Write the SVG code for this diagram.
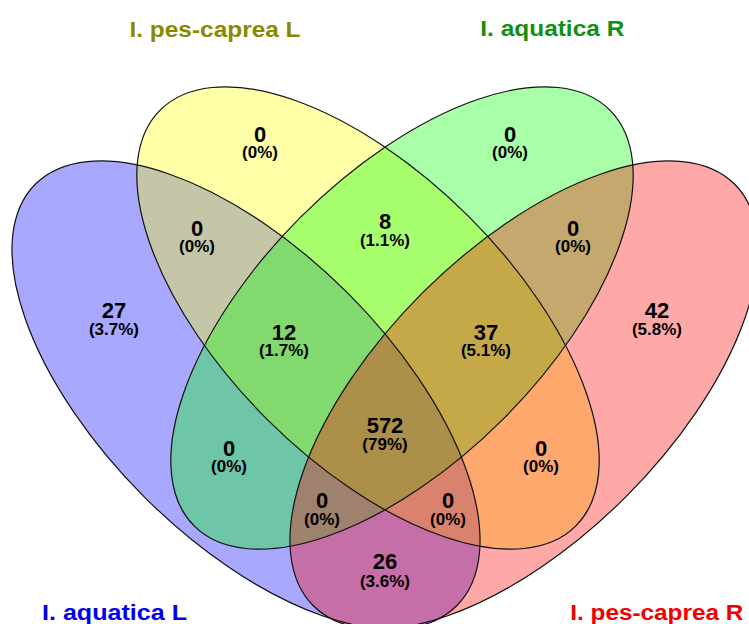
<svg xmlns="http://www.w3.org/2000/svg" width="749" height="624" viewBox="0 0 749 624">
<style>
.fill{stroke:none;fill-opacity:0.34}
.edge{fill:none;stroke:#111;stroke-width:1.2}
.num{font-family:"Liberation Sans",Arial,Helvetica,sans-serif;font-weight:bold;font-size:22px;text-anchor:middle;fill:#000}
.pct{font-family:"Liberation Sans",Arial,Helvetica,sans-serif;font-weight:bold;font-size:17px;text-anchor:middle;fill:#000}
.cat{font-family:"Liberation Sans",Arial,Helvetica,sans-serif;font-weight:bold;font-size:22.5px}
</style>
<defs>
<ellipse id="eA" cx="0" cy="0" rx="298" ry="144" transform="translate(246 395) rotate(45)"/>
<ellipse id="eB" cx="0" cy="0" rx="294" ry="143" transform="translate(368 318) rotate(45)"/>
<ellipse id="eC" cx="0" cy="0" rx="294" ry="143" transform="translate(402 318) rotate(-45)"/>
<ellipse id="eD" cx="0" cy="0" rx="298" ry="144" transform="translate(524 395) rotate(-45)"/>
</defs>
<rect width="749" height="624" fill="#fff"/>
<g id="set-aquatica-L"><use href="#eA" class="fill" fill="#0000ff"/></g>
<g id="set-pes-caprea-L"><use href="#eB" class="fill" fill="#ffff00"/></g>
<g id="set-aquatica-R"><use href="#eC" class="fill" fill="#00ff00"/></g>
<g id="set-pes-caprea-R"><use href="#eD" class="fill" fill="#ff0000"/></g>
<g id="outlines">
<use href="#eA" class="edge"/>
<use href="#eB" class="edge"/>
<use href="#eC" class="edge"/>
<use href="#eD" class="edge"/>
</g>
<g id="connectors"></g>
<g id="region-labels">
<text class="num" x="260" y="142">0</text><text class="pct" x="260" y="158">(0%)</text>
<text class="num" x="510" y="142">0</text><text class="pct" x="510" y="158">(0%)</text>
<text class="num" x="114" y="318">27</text><text class="pct" x="114" y="335">(3.7%)</text>
<text class="num" x="657" y="318">42</text><text class="pct" x="657" y="335">(5.8%)</text>
<text class="num" x="197" y="236">0</text><text class="pct" x="197" y="252">(0%)</text>
<text class="num" x="573" y="236">0</text><text class="pct" x="573" y="252">(0%)</text>
<text class="num" x="385" y="229">8</text><text class="pct" x="385" y="246">(1.1%)</text>
<text class="num" x="284" y="340">12</text><text class="pct" x="284" y="356">(1.7%)</text>
<text class="num" x="486" y="340">37</text><text class="pct" x="486" y="356">(5.1%)</text>
<text class="num" x="385" y="433">572</text><text class="pct" x="385" y="450">(79%)</text>
<text class="num" x="229" y="456">0</text><text class="pct" x="229" y="472">(0%)</text>
<text class="num" x="541" y="456">0</text><text class="pct" x="541" y="472">(0%)</text>
<text class="num" x="322" y="508">0</text><text class="pct" x="322" y="525">(0%)</text>
<text class="num" x="448" y="508">0</text><text class="pct" x="448" y="525">(0%)</text>
<text class="num" x="385" y="569">26</text><text class="pct" x="385" y="587">(3.6%)</text>
</g>
<g id="category-labels">
<text class="cat" x="129.5" y="36.5" textLength="171" lengthAdjust="spacingAndGlyphs" fill="#8a8a00">I. pes-caprea L</text>
<text class="cat" x="480.3" y="36" textLength="144" lengthAdjust="spacingAndGlyphs" fill="#109010">I. aquatica R</text>
<text class="cat" x="42" y="619.5" textLength="145" lengthAdjust="spacingAndGlyphs" fill="#0000ee">I. aquatica L</text>
<text class="cat" x="570.3" y="619.5" textLength="173" lengthAdjust="spacingAndGlyphs" fill="#f00000">I. pes-caprea R</text>
</g>
</svg>
